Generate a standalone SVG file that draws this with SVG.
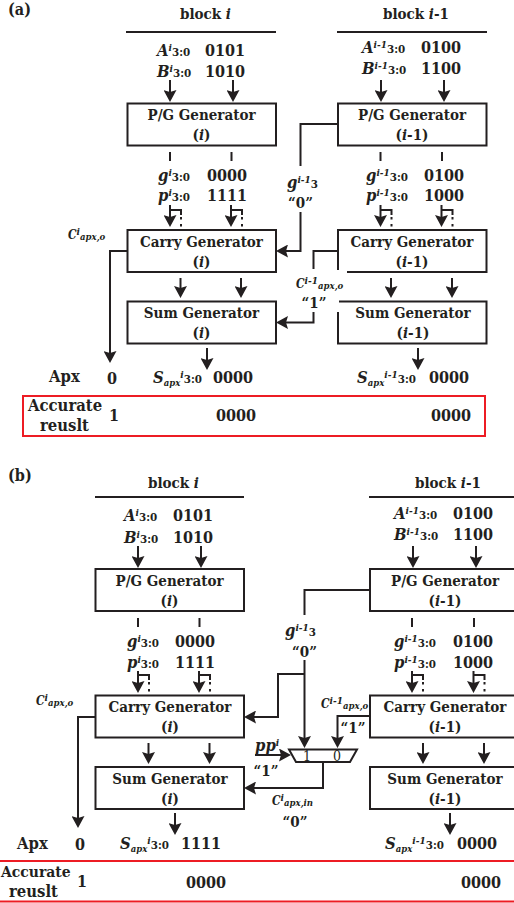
<svg xmlns="http://www.w3.org/2000/svg" width="514" height="903" viewBox="0 0 514 903">
<style>
text{font-family:"DejaVu Serif Condensed","DejaVu Serif","Liberation Serif",serif;font-weight:700;font-size:15px;fill:#231f20}
.i{font-style:italic}
.m{text-anchor:middle}
.v{font-size:16px}
.l{font-size:16.5px}
.sm{font-size:10px}
.s{font-size:11.5px}
.c{font-size:12px;font-style:italic}
.cs{font-size:9.5px;font-style:italic}
.box{fill:#fff;stroke:#231f20;stroke-width:2}
.rule,.w,.d{fill:none;stroke:#231f20;stroke-width:2}
.d{stroke-dasharray:2.5 4.5}
.a{fill:none;stroke:#231f20;stroke-width:2;marker-end:url(#h)}
.red{fill:none;stroke:#ed1c24;stroke-width:2}
</style>
<defs>
<marker id="h" markerUnits="userSpaceOnUse" markerWidth="13" markerHeight="13" viewBox="0 0 13 13" refX="9" refY="6.5" orient="auto"><path d="M0,0 L12,6.5 L0,13 L2,6.5z" fill="#231f20"/></marker>
</defs>

<g id="connectors">
<path class="rule" d="M126,32H276M337,32H487M95,497H244M369,497H519"/>
<!-- a -->
<path class="a" d="M170,80V99"/><path class="a" d="M233,80V99"/><path class="a" d="M381,80V99"/><path class="a" d="M444,80V99"/>
<path class="w" d="M170,152V161M231.5,152V161M380.5,152V161M442,152V161"/>
<path class="a" d="M170,205V224"/><path class="a" d="M231,205V224"/><path class="a" d="M380.5,205V224"/><path class="a" d="M441.5,205V224"/>
<path class="w" d="M170,210H181V215M231,210H242V215M380.5,210H391.5V215M441.500,210H452.500V215"/>
<path class="d" d="M181,217V230M242,217V230M391.500,217V230M452.500,217V230"/>
<path class="a" d="M180.500,278V295"/><path class="a" d="M241,278V295"/><path class="a" d="M391,278V295"/><path class="a" d="M452,278V295"/>
<path class="a" d="M207,348V367"/><path class="a" d="M418,348V367"/>
<path class="a" d="M127,251H110V360"/>
<path class="w" d="M338,124H300.500V166"/>
<path class="a" d="M300.500,212V251H279"/>
<path class="w" d="M338,251H313.500V269"/>
<path class="a" d="M313.500,312V322.500H279"/>
<!-- b -->
<path class="a" d="M138,546V565"/><path class="a" d="M201,546V565"/><path class="a" d="M413,546V565"/><path class="a" d="M476,546V565"/>
<path class="w" d="M138,618V627M199.500,618V627M412,618V627M474,618V627"/>
<path class="a" d="M138,671V690"/><path class="a" d="M199,671V690"/><path class="a" d="M412,671V690"/><path class="a" d="M473.500,671V690"/>
<path class="w" d="M138,675H149V680M199,675H210V680M412,675H423V680M473.500,675H484.500V680"/>
<path class="d" d="M149,682V695M210,682V695M423,682V695M484.500,682V695"/>
<path class="a" d="M148.500,743V761"/><path class="a" d="M209.500,743V761"/><path class="a" d="M423,743V761"/><path class="a" d="M484,743V761"/>
<path class="a" d="M175,813V832"/><path class="a" d="M450,813V832"/>
<path class="a" d="M95,717H78V825"/>
<path class="w" d="M370,590H304.500V615"/>
<path class="a" d="M304.500,660V745"/>
<path class="a" d="M304.500,674H278V717H247"/>
<path class="a" d="M370,716H337.500V745"/>
<path class="a" d="M255,755H288"/>
<path class="a" d="M323,762V788H247"/>
</g>

<g id="labels-a">
<text x="8" y="15" style="font-size:16px">(a)</text>
<text x="180" y="19">block <tspan class="i">i</tspan></text>
<text x="383" y="19">block <tspan class="i">i</tspan>-1</text>
<text x="157" y="56"><tspan class="i l">A</tspan><tspan class="sm i" dy="-5">i</tspan><tspan class="s" dy="5">3:0</tspan></text>
<text x="205" y="56" class="v">0101</text>
<text x="157" y="77"><tspan class="i l">B</tspan><tspan class="sm i" dy="-5">i</tspan><tspan class="s" dy="5">3:0</tspan></text>
<text x="205" y="77" class="v">1010</text>
<text x="362" y="53"><tspan class="i l">A</tspan><tspan class="sm i" dy="-5">i-1</tspan><tspan class="s" dy="5">3:0</tspan></text>
<text x="421" y="53" class="v">0100</text>
<text x="362" y="74"><tspan class="i l">B</tspan><tspan class="sm i" dy="-5">i-1</tspan><tspan class="s" dy="5">3:0</tspan></text>
<text x="421" y="74" class="v">1100</text>
<text x="158" y="181"><tspan class="i l">g</tspan><tspan class="sm i" dy="-5">i</tspan><tspan class="s" dy="5">3:0</tspan></text>
<text x="207" y="181" class="v">0000</text>
<text x="158" y="201"><tspan class="i l">p</tspan><tspan class="sm i" dy="-5">i</tspan><tspan class="s" dy="5">3:0</tspan></text>
<text x="207" y="201" class="v">1111</text>
<text x="366" y="181"><tspan class="i l">g</tspan><tspan class="sm i" dy="-5">i-1</tspan><tspan class="s" dy="5">3:0</tspan></text>
<text x="424" y="181" class="v">0100</text>
<text x="366" y="201"><tspan class="i l">p</tspan><tspan class="sm i" dy="-5">i-1</tspan><tspan class="s" dy="5">3:0</tspan></text>
<text x="424" y="201" class="v">1000</text>
<text x="287" y="188"><tspan class="i l">g</tspan><tspan class="sm i" dy="-5">i-1</tspan><tspan class="s" dy="5">3</tspan></text>
<text x="300.500" y="208" class="m">“0”</text>
<text x="68" y="239" class="c">C<tspan class="sm" dy="-4">i</tspan><tspan class="cs" dy="5">apx,o</tspan></text>
<text x="296" y="288" class="c">C<tspan class="sm" dy="-4">i-1</tspan><tspan class="cs" dy="5">apx,o</tspan></text>
<text x="314" y="308" class="m">“1”</text>
<text x="49" y="382" class="l">Apx</text>
<text x="107" y="384" class="v">0</text>
<text x="153" y="383"><tspan class="i l">S</tspan><tspan class="cs" dy="3">apx</tspan><tspan class="sm i" dy="-8">i</tspan><tspan class="s" dy="5">3:0</tspan></text>
<text x="213" y="383" class="v">0000</text>
<text x="357" y="383"><tspan class="i l">S</tspan><tspan class="cs" dy="3">apx</tspan><tspan class="sm i" dy="-8">i-1</tspan><tspan class="s" dy="5">3:0</tspan></text>
<text x="429" y="383" class="v">0000</text>
<text x="28" y="411" class="l">Accurate</text>
<text x="40" y="431" class="l">reuslt</text>
<text x="109" y="421" class="v">1</text>
<text x="216" y="421" class="v">0000</text>
<text x="431" y="421" class="v">0000</text>
</g>
<rect id="accurate-a" class="red" x="23" y="396" width="462" height="40"/>

<g id="pg-a-i"><rect class="box" x="127.500" y="103.500" width="148.500" height="42"/><text x="201.500" y="120" class="m">P/G Generator</text><text x="201.500" y="140" class="m">(<tspan class="i">i</tspan>)</text></g>
<g id="pg-a-i1"><rect class="box" x="338" y="103.500" width="148.500" height="42"/><text x="412" y="120" class="m">P/G Generator</text><text x="412" y="140" class="m">(<tspan class="i">i</tspan>-1)</text></g>
<g id="carry-a-i"><rect class="box" x="127.500" y="230" width="148.500" height="42"/><text x="201.500" y="247" class="m">Carry Generator</text><text x="201.500" y="267" class="m">(<tspan class="i">i</tspan>)</text></g>
<g id="carry-a-i1"><path class="box" d="M338,270V230H486.500V272H347"/><text x="412" y="247" class="m">Carry Generator</text><text x="412" y="267" class="m">(<tspan class="i">i</tspan>-1)</text></g>
<g id="sum-a-i"><rect class="box" x="127.500" y="301.500" width="148.500" height="42"/><text x="201.500" y="318" class="m">Sum Generator</text><text x="201.500" y="338" class="m">(<tspan class="i">i</tspan>)</text></g>
<g id="sum-a-i1"><path class="box" d="M339,301.500H486.500V343.500H338V312"/><text x="413" y="318" class="m">Sum Generator</text><text x="413" y="338" class="m">(<tspan class="i">i</tspan>-1)</text></g>

<g id="labels-b">
<text x="8" y="481" style="font-size:16px">(b)</text>
<text x="148" y="488">block <tspan class="i">i</tspan></text>
<text x="415" y="488">block <tspan class="i">i</tspan>-1</text>
<text x="124" y="521"><tspan class="i l">A</tspan><tspan class="sm i" dy="-5">i</tspan><tspan class="s" dy="5">3:0</tspan></text>
<text x="173" y="521" class="v">0101</text>
<text x="124" y="543"><tspan class="i l">B</tspan><tspan class="sm i" dy="-5">i</tspan><tspan class="s" dy="5">3:0</tspan></text>
<text x="173" y="543" class="v">1010</text>
<text x="394" y="519"><tspan class="i l">A</tspan><tspan class="sm i" dy="-5">i-1</tspan><tspan class="s" dy="5">3:0</tspan></text>
<text x="453" y="519" class="v">0100</text>
<text x="394" y="540"><tspan class="i l">B</tspan><tspan class="sm i" dy="-5">i-1</tspan><tspan class="s" dy="5">3:0</tspan></text>
<text x="453" y="540" class="v">1100</text>
<text x="127" y="647"><tspan class="i l">g</tspan><tspan class="sm i" dy="-5">i</tspan><tspan class="s" dy="5">3:0</tspan></text>
<text x="175" y="647" class="v">0000</text>
<text x="127" y="668"><tspan class="i l">p</tspan><tspan class="sm i" dy="-5">i</tspan><tspan class="s" dy="5">3:0</tspan></text>
<text x="175" y="668" class="v">1111</text>
<text x="394" y="647"><tspan class="i l">g</tspan><tspan class="sm i" dy="-5">i-1</tspan><tspan class="s" dy="5">3:0</tspan></text>
<text x="453" y="647" class="v">0100</text>
<text x="394" y="668"><tspan class="i l">p</tspan><tspan class="sm i" dy="-5">i-1</tspan><tspan class="s" dy="5">3:0</tspan></text>
<text x="453" y="668" class="v">1000</text>
<text x="285" y="636"><tspan class="i l">g</tspan><tspan class="sm i" dy="-5">i-1</tspan><tspan class="s" dy="5">3</tspan></text>
<text x="304.500" y="657" class="m">“0”</text>
<text x="36" y="705" class="c">C<tspan class="sm" dy="-4">i</tspan><tspan class="cs" dy="5">apx,o</tspan></text>
<text x="321" y="708" class="c">C<tspan class="sm" dy="-4">i-1</tspan><tspan class="cs" dy="5">apx,o</tspan></text>
<text x="353" y="733" class="m">“1”</text>
<text x="255" y="751" class="i l">pp<tspan class="sm" dy="-5">i</tspan></text>
<text x="266" y="776" class="m">“1”</text>
<text x="272" y="805" class="c">C<tspan class="sm" dy="-4">i</tspan><tspan class="cs" dy="5">apx,in</tspan></text>
<text x="295" y="827" class="m">“0”</text>
<text x="17" y="849" class="l">Apx</text>
<text x="75" y="850" class="v">0</text>
<text x="120" y="849"><tspan class="i l">S</tspan><tspan class="cs" dy="3">apx</tspan><tspan class="sm i" dy="-8">i</tspan><tspan class="s" dy="5">3:0</tspan></text>
<text x="181" y="849" class="v">1111</text>
<text x="385" y="849"><tspan class="i l">S</tspan><tspan class="cs" dy="3">apx</tspan><tspan class="sm i" dy="-8">i-1</tspan><tspan class="s" dy="5">3:0</tspan></text>
<text x="457" y="849" class="v">0000</text>
<text x="1" y="877" style="font-size:15.500px">Accurate</text>
<text x="9" y="897" class="l">reuslt</text>
<text x="77" y="887" class="v">1</text>
<text x="186" y="888" class="v">0000</text>
<text x="461" y="888" class="v">0000</text>
</g>
<path id="accurate-b" class="red" d="M0,861H514M0,901.500H514"/>

<g id="pg-b-i"><rect class="box" x="95.500" y="569" width="148.500" height="42"/><text x="169.500" y="586" class="m">P/G Generator</text><text x="169.500" y="606" class="m">(<tspan class="i">i</tspan>)</text></g>
<g id="pg-b-i1"><rect class="box" x="370" y="569" width="150" height="42"/><text x="445" y="586" class="m">P/G Generator</text><text x="445" y="606" class="m">(<tspan class="i">i</tspan>-1)</text></g>
<g id="carry-b-i"><rect class="box" x="95.500" y="695.500" width="148.500" height="42"/><text x="170" y="712" class="m">Carry Generator</text><text x="170" y="732" class="m">(<tspan class="i">i</tspan>)</text></g>
<g id="carry-b-i1"><rect class="box" x="370" y="695.500" width="150" height="42"/><text x="445" y="712" class="m">Carry Generator</text><text x="445" y="732" class="m">(<tspan class="i">i</tspan>-1)</text></g>
<g id="sum-b-i"><rect class="box" x="95.500" y="767" width="148.500" height="42"/><text x="170" y="784" class="m">Sum Generator</text><text x="170" y="804" class="m">(<tspan class="i">i</tspan>)</text></g>
<g id="sum-b-i1"><rect class="box" x="370" y="767" width="150" height="42"/><text x="445" y="784" class="m">Sum Generator</text><text x="445" y="804" class="m">(<tspan class="i">i</tspan>-1)</text></g>
<g id="mux"><path d="M289,749.500H357L350,762H296z" fill="none" stroke="#231f20" stroke-width="2"/><text x="307" y="761" class="m" style="font-weight:400;font-size:14px">1</text><text x="337" y="761" class="m" style="font-weight:400;font-size:14px">0</text></g>
</svg>
